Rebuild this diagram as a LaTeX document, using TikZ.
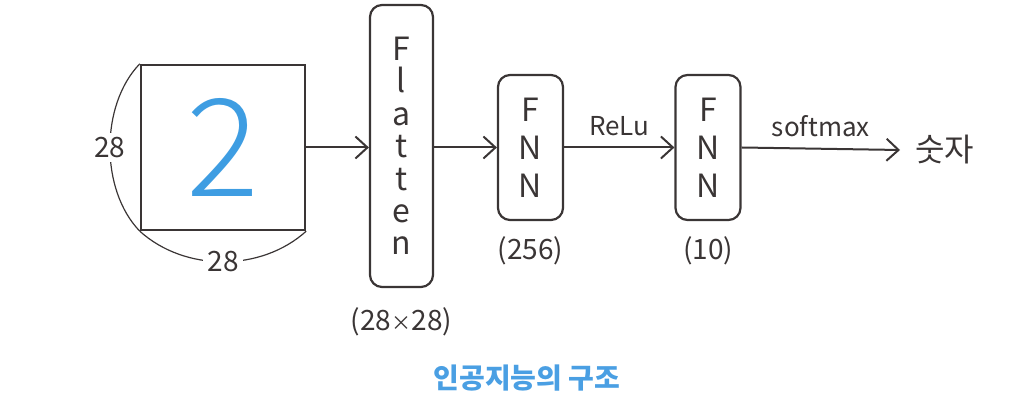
\documentclass[tikz,border=0pt]{standalone}
\usepackage{fontspec}
\setmainfont{Noto Sans CJK KR}
\IfFontExistsTF{Noto Sans CJK KR Light}
  {\newfontfamily\digitfont{Noto Sans CJK KR Light}}
  {\newfontfamily\digitfont{Noto Sans CJK KR}}
\usepackage{tikz}
\usetikzlibrary{positioning,arrows.meta,calc}
\definecolor{LineDark}{HTML}{3A3535}
\definecolor{DigitBlue}{HTML}{3E9DE2}
\definecolor{TitleBlue}{HTML}{4A9FE3}

\begin{document}
\begin{tikzpicture}[x=0.5pt,y=-0.5pt,
  every node/.style={font=\fontsize{14}{16}\selectfont, text=LineDark},
  layer/.style={draw=LineDark, line width=1.1pt, rounded corners=6pt,
                align=center, inner sep=0pt},
  ar/.style={-{Straight Barb[length=6pt,width=11pt]}, line width=1pt, draw=LineDark},
  dim/.style={draw=LineDark, line width=0.6pt},
  act/.style={above=2pt, font=\fontsize{13}{15}\selectfont},
]
  \useasboundingbox (0,0) rectangle (1028,410);

  % INPUT
  \node[draw=LineDark, line width=1.2pt, minimum width=82pt, minimum height=82.5pt,
        inner sep=0pt] (img) at (223,147.5) {};
  \node[text=DigitBlue, font=\digitfont\fontsize{68}{70}\selectfont] at (img) {2};
  \draw[dim] (img.north west) .. controls (100,105) and (100,190) .. (img.south west)
    node[midway, fill=white, inner sep=2pt] {28};
  \draw[dim] (img.south west) .. controls (185,272) and (261,272) .. (img.south east)
    node[midway, fill=white, inner sep=2pt] {28};

  % LAYERS
  \node[layer, minimum width=31.5pt, minimum height=141pt,
        font=\fontsize{16}{16.2}\selectfont] (flat) at (401.5,146)
    {F\\l\\a\\t\\t\\e\\n};
  \node[layer, minimum width=32.5pt, minimum height=72.5pt,
        font=\fontsize{16}{19}\selectfont] (fnn1) at (530.5,147.5) {F\\N\\N};
  \node[layer, minimum width=32.5pt, minimum height=72.5pt,
        font=\fontsize{16}{19}\selectfont] (fnn2) at (708,147.5) {F\\N\\N};
  \node[below=6pt of flat] (flatsz) {(28{\fontsize{10}{12}\selectfont ×}28)};
  \node[below=4pt of fnn1] (fnn1sz) {(256)};
  \node[below=4pt of fnn2] (fnn2sz) {(10)};

  % OUTPUT
  \node[font=\fontsize{16}{18}\selectfont, anchor=west] (out) at (908,150) {숫자};
  \coordinate (outend) at (900,150);

  \foreach \a/\b in {img/flat,flat/fnn1}
    \draw[ar] (\a.east |- img.east) -- (\b.west |- img.east);
  \draw[ar] (fnn1.east |- img.east) -- node[act]{ReLu} (fnn2.west |- img.east);
  \draw[ar] (fnn2.east |- img.east) -- node[act]{softmax} (outend);

  % Caption
  \node[font=\fontsize{14}{16}\selectfont\bfseries, text=TitleBlue] (title) at (527,378)
    {인공지능의 구조};
\end{tikzpicture}
\end{document}
